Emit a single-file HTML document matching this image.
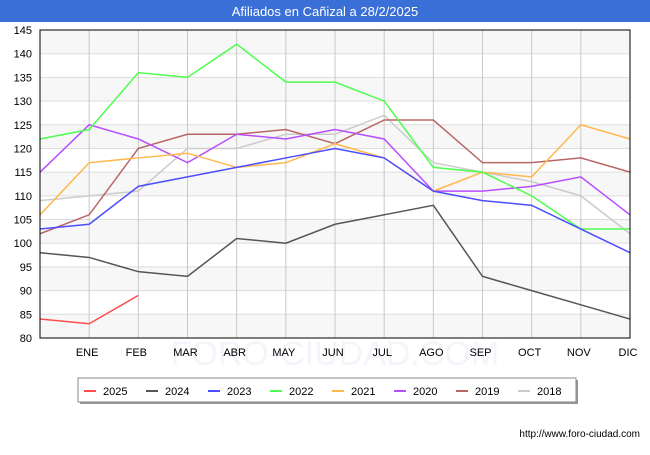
<!DOCTYPE html>
<html><head><meta charset="utf-8"><style>
body{margin:0;width:650px;height:450px;background:#fff;font-family:"Liberation Sans",sans-serif;overflow:hidden}
</style></head><body>
<svg width="650" height="450" xmlns="http://www.w3.org/2000/svg" font-family="Liberation Sans, sans-serif">
<rect x="0" y="0" width="650" height="22" fill="#3a6fd8"/>
<text x="325" y="16" text-anchor="middle" fill="#fff" font-size="13">Afiliados en Cañizal a 28/2/2025</text>
<g id="grid"></g>
<g id="series"></g>
<rect x="40" y="30" width="590" height="308" fill="none" stroke="#000" stroke-width="1"/>
<g id="legend"></g>
<text x="640" y="437" text-anchor="end" font-size="10" fill="#000">http://www.foro-ciudad.com</text>
</svg>
<script>
const months=["","ENE","FEB","MAR","ABR","MAY","JUN","JUL","AGO","SEP","OCT","NOV","DIC"];
const yTicks=[80,85,90,95,100,105,110,115,120,125,130,135,140,145];
const seriesNames=["2025","2024","2023","2022","2021","2020","2019","2018"];
const seriesColors=["#ff4d4d","#555555","#4d4dff","#4dff4d","#ffb84d","#b84dff","#b86666","#cccccc"];
const s2025=[84,83,89];
const s2024=[98,97,94,93,101,100,104,106,108,93,90,87,84];
const s2023=[103,104,112,114,116,118,120,118,111,109,108,103,98];
const s2022=[122,124,136,135,142,134,134,130,116,115,110,103,103];
const s2021=[106,117,118,119,116,117,121,118,111,115,114,125,122];
const s2020=[115,125,122,117,123,122,124,122,111,111,112,114,106];
const s2019=[102,106,120,123,123,124,121,126,126,117,117,118,115];
const s2018=[109,110,111,120,120,123,123,127,117,115,113,110,102];
const allSeries=[s2025,s2024,s2023,s2022,s2021,s2020,s2019,s2018];
const NS="http://www.w3.org/2000/svg";
const L=40,R=630,T=30,B=338,ymin=80,ymax=145;
const xS=i=>L+(R-L)*i/12;
const yS=v=>B-(v-ymin)*(B-T)/(ymax-ymin);
function mk(t,a,p){const e=document.createElementNS(NS,t);for(const k in a)e.setAttribute(k,a[k]);p.appendChild(e);return e;}
const g=document.getElementById('grid');
for(let i=0;i<yTicks.length-1;i++){
  if(i%2===0){const b=mk('rect',{x:L,y:yS(yTicks[i+1]),width:R-L,height:yS(yTicks[i])-yS(yTicks[i+1]),fill:'#f7f7f7'},g);
  
  }
}
const wm=mk('text',{x:335,y:365,'text-anchor':'middle','font-size':'34',fill:'#f3f5fb'},g);wm.textContent="FORO-CIUDAD.COM";


yTicks.forEach(v=>{
  const l=mk('line',{x1:L,x2:R,y1:yS(v),y2:yS(v),stroke:'#dddddd'},g);
  
  
  const t=mk('text',{x:L-8,y:yS(v)+4,'text-anchor':'end','font-size':'11'},g);t.textContent=v;
  
  
});
months.forEach((m,i)=>{
  if(i===0)return;
  const l=mk('line',{x1:xS(i),x2:xS(i),y1:T,y2:B,stroke:'#c8c8c8'},g);
  
  
  const t=mk('text',{x:xS(i)-2,y:356,'text-anchor':'middle','font-size':'11'},g);t.textContent=m;
  
  
});
const sg=document.getElementById('series');
for(let k=allSeries.length-1;k>=0;k--){
  const pts=allSeries[k].map((v,i)=>xS(i)+','+yS(v)).join(' ');
  const p=mk('polyline',{points:pts,fill:'none',stroke:seriesColors[k],'stroke-width':'1.5'},sg);
  
  
}
const lg=document.getElementById('legend');
const sh=mk('rect',{x:80,y:380,width:498,height:24,fill:'#999'},lg);
const box=mk('rect',{x:78,y:378,width:498,height:24,fill:'#fff',stroke:'#888'},lg);


seriesNames.forEach((n,k)=>{
  const x=84+k*62;
  const l=mk('line',{x1:x,x2:x+12,y1:391,y2:391,stroke:seriesColors[k],'stroke-width':'2'},lg);
  
  
  const t=mk('text',{x:x+19,y:395,'font-size':'11'},lg);t.textContent=n;
  
  
});
</script>
</body></html>
